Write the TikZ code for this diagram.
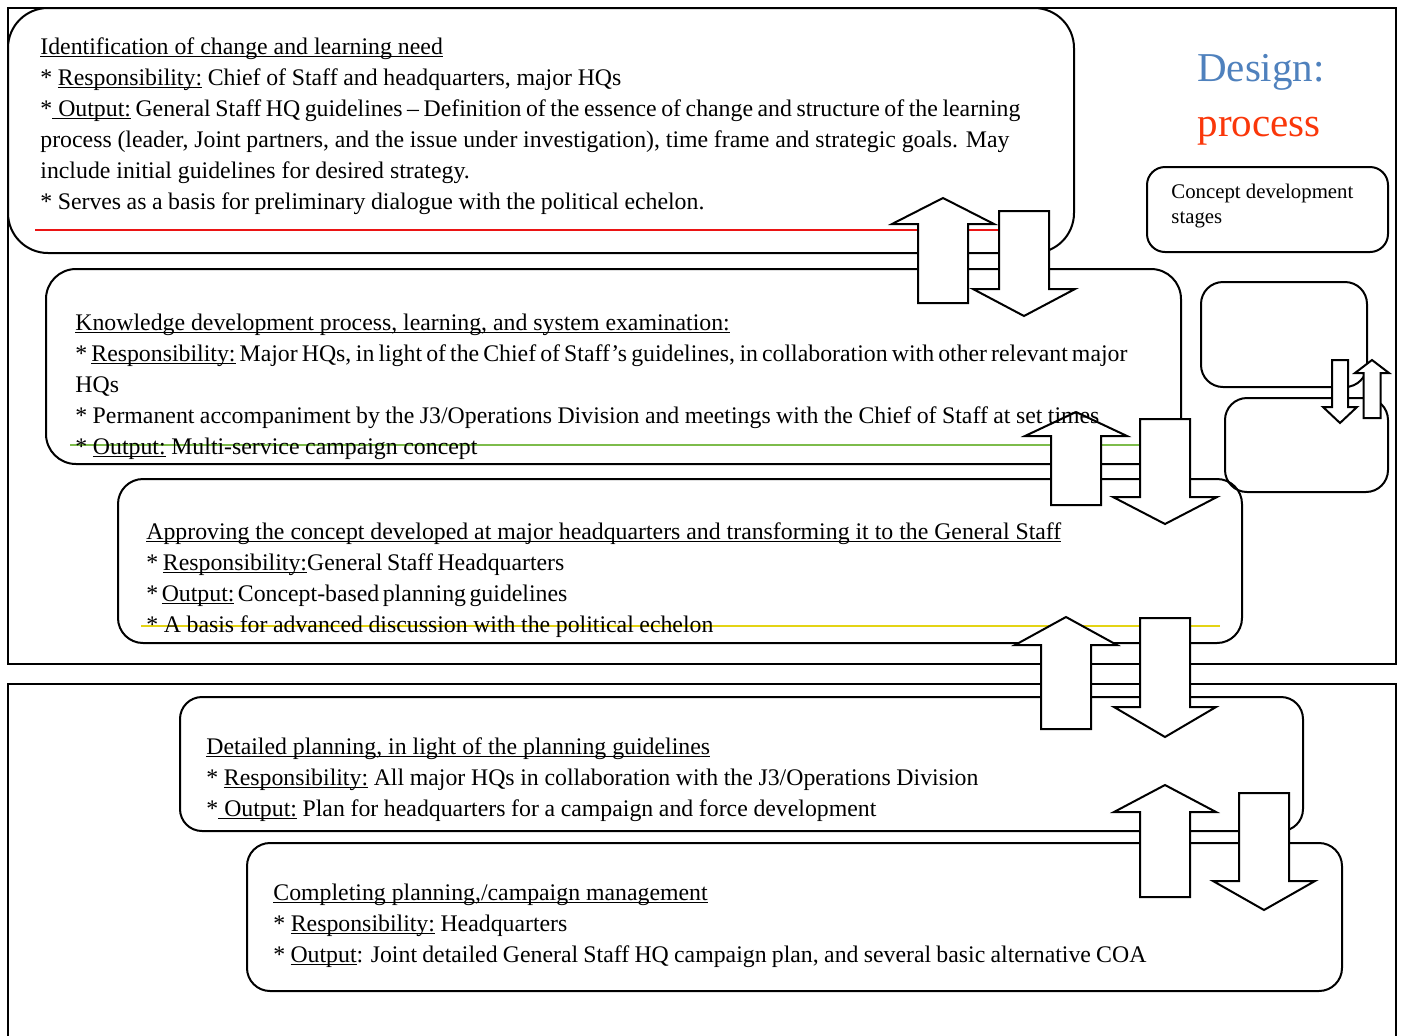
\documentclass[tikz,border=0pt]{standalone}
\usepackage{fontspec}
\setmainfont{Liberation Serif}

\definecolor{titleblue}{RGB}{79,129,189}
\definecolor{titlered}{RGB}{250,55,10}
\definecolor{markred}{RGB}{235,20,20}
\definecolor{markgreen}{RGB}{125,188,75}
\definecolor{markyellow}{RGB}{228,212,20}

% underline at a fixed depth below the baseline, crossing descenders
\newcommand\undl[1]{\setbox0=\hbox{#1}\rlap{\rule[-1.6pt]{\wd0}{0.5pt}}\box0\relax}

% a text line set to a given width (in drawing units), spreading its word spaces
\newcommand\fitline[2]{\hbox to \dimexpr #1pt/2\relax{\spaceskip=0.25em plus 1fil minus 1fil\relax #2}}

% block arrow: centre x, tip y, head-base y, tail y, shaft half width, head half width
\newcommand\blockarr[6]{%
  \draw[blockarrow] (#1,#2) -- (#1+#6,#3) -- (#1+#5,#3) -- (#1+#5,#4)
    -- (#1-#5,#4) -- (#1-#5,#3) -- (#1-#6,#3) -- cycle;}

\tikzset{
  frame/.style={draw, line width=1pt},
  stagebox/.style={draw, line width=1pt, rounded corners=#1},
  blockarrow/.style={draw, fill=white, line width=1pt, line join=miter},
  markline/.style={line width=0.6pt},
  bodytext/.style={anchor=base west, inner sep=0pt, font=\fontsize{11.9}{14}\selectfont},
  smalltext/.style={anchor=base west, inner sep=0pt, font=\fontsize{10.4}{12.5}\selectfont},
  titletext/.style={anchor=base, inner sep=0pt, font=\fontsize{20.5}{24}\selectfont},
}

\begin{document}
\begin{tikzpicture}[x=0.5pt, y=-0.5pt]
\useasboundingbox (0,0) rectangle (1404,1035);
\fill[white] (0,0) rectangle (1404,1035);

% outer frames
\draw[frame] (8,8) rectangle (1396,664);
\draw[frame] (8,1036) -- (8,684) -- (1396,684) -- (1396,1036);

% stage boxes
\draw[stagebox=20pt] (8,8) rectangle (1074,253);
\draw[stagebox=15pt] (46,269) rectangle (1181,464);
\draw[stagebox=12.5pt] (118,479) rectangle (1242,643);
\draw[stagebox=11pt] (180,697) rectangle (1303,831);
\draw[stagebox=11.5pt] (247,843) rectangle (1342,991);

% legend boxes
\draw[stagebox=9pt] (1147,167) rectangle (1388,252);
\draw[stagebox=11pt] (1201,282) rectangle (1367,387);
\draw[stagebox=11pt] (1225,398) rectangle (1388,492);

% coloured marker lines
\draw[markline, markred] (35,230) -- (1000,230);
\draw[markline, markgreen] (70,445) -- (1140,445);
\draw[markline, markyellow] (141,626) -- (1220,626);

% arrows between stages
\blockarr{943}{198}{224}{303}{25}{51}
\blockarr{1024}{316}{289}{211}{25}{51}
\blockarr{1076}{412}{436}{505}{25}{51}
\blockarr{1165}{524}{497}{419}{25}{52}
\blockarr{1066}{617}{645}{729}{25}{51}
\blockarr{1165}{737}{707}{618}{25}{51}
\blockarr{1165}{785}{812}{897}{25}{51}
\blockarr{1264}{910}{881}{793}{25}{51}
% small legend arrows
\blockarr{1340}{423}{407}{360}{8}{17}
\blockarr{1372}{360}{373}{418}{8.5}{17}

% title
\node[titletext, text=titleblue] (title1) at (1261,81) {Design:};
\node[titletext, text=titlered] (title2) at (1259,136) {process};
\node[smalltext] (leg1) at (1171,198) {Concept development};
\node[smalltext] (leg2) at (1171,223) {stages};

% stage 1
\node[bodytext] (s1a) at (40,54) {\undl{Identification of change and learning need}};
\node[bodytext] (s1b) at (40,85) {\fitline{581}{* \undl{Responsibility:} Chief of Staff and headquarters, major HQs}};
\node[bodytext] (s1c) at (40,116) {\fitline{980}{*\undl{ Output:} General Staff HQ guidelines – Definition of the essence of change and structure of the learning}};
\node[bodytext] (s1d) at (40,147) {\fitline{969}{process (leader, Joint partners, and the issue under investigation), time frame and strategic goals. May}};
\node[bodytext] (s1e) at (40,178) {include initial guidelines for desired strategy.};
\node[bodytext] (s1f) at (40,209) {\fitline{664}{* Serves as a basis for preliminary dialogue with the political echelon.}};

% stage 2
\node[bodytext] (s2a) at (75,330) {\undl{Knowledge development process, learning, and system examination:}};
\node[bodytext] (s2b) at (75,361) {\fitline{1052}{* \undl{Responsibility:} Major HQs, in light of the Chief of Staff's guidelines, in collaboration with other relevant major}};
\node[bodytext] (s2c) at (75,392) {HQs};
\node[bodytext] (s2d) at (75,423) {\fitline{1024}{* Permanent accompaniment by the J3/Operations Division and meetings with the Chief of Staff at set times}};
\node[bodytext] (s2e) at (75,454) {\fitline{402}{* \undl{Output:} Multi-service campaign concept}};

% stage 3
\node[bodytext] (s3a) at (146,539) {\undl{Approving the concept developed at major headquarters and transforming it to the General Staff}};
\node[bodytext] (s3b) at (146,570) {\fitline{418}{* \undl{Responsibility:}General Staff Headquarters}};
\node[bodytext] (s3c) at (146,601) {\fitline{421}{* \undl{Output:} Concept-based planning guidelines}};
\node[bodytext] (s3d) at (146,632) {\fitline{567}{* A basis for advanced discussion with the political echelon}};

% stage 4
\node[bodytext] (s4a) at (206,754) {\undl{Detailed planning, in light of the planning guidelines}};
\node[bodytext] (s4b) at (206,785) {\fitline{772}{* \undl{Responsibility:} All major HQs in collaboration with the J3/Operations Division}};
\node[bodytext] (s4c) at (206,816) {\fitline{670}{*\undl{ Output:} Plan for headquarters for a campaign and force development}};

% stage 5
\node[bodytext] (s5a) at (273,900) {\undl{Completing planning,/campaign management}};
\node[bodytext] (s5b) at (273,931) {\fitline{294}{* \undl{Responsibility:} Headquarters}};
\node[bodytext] (s5c) at (273,962) {\fitline{873}{* \undl{Output}: Joint detailed General Staff HQ campaign plan, and several basic alternative COA}};
\end{tikzpicture}
\end{document}
